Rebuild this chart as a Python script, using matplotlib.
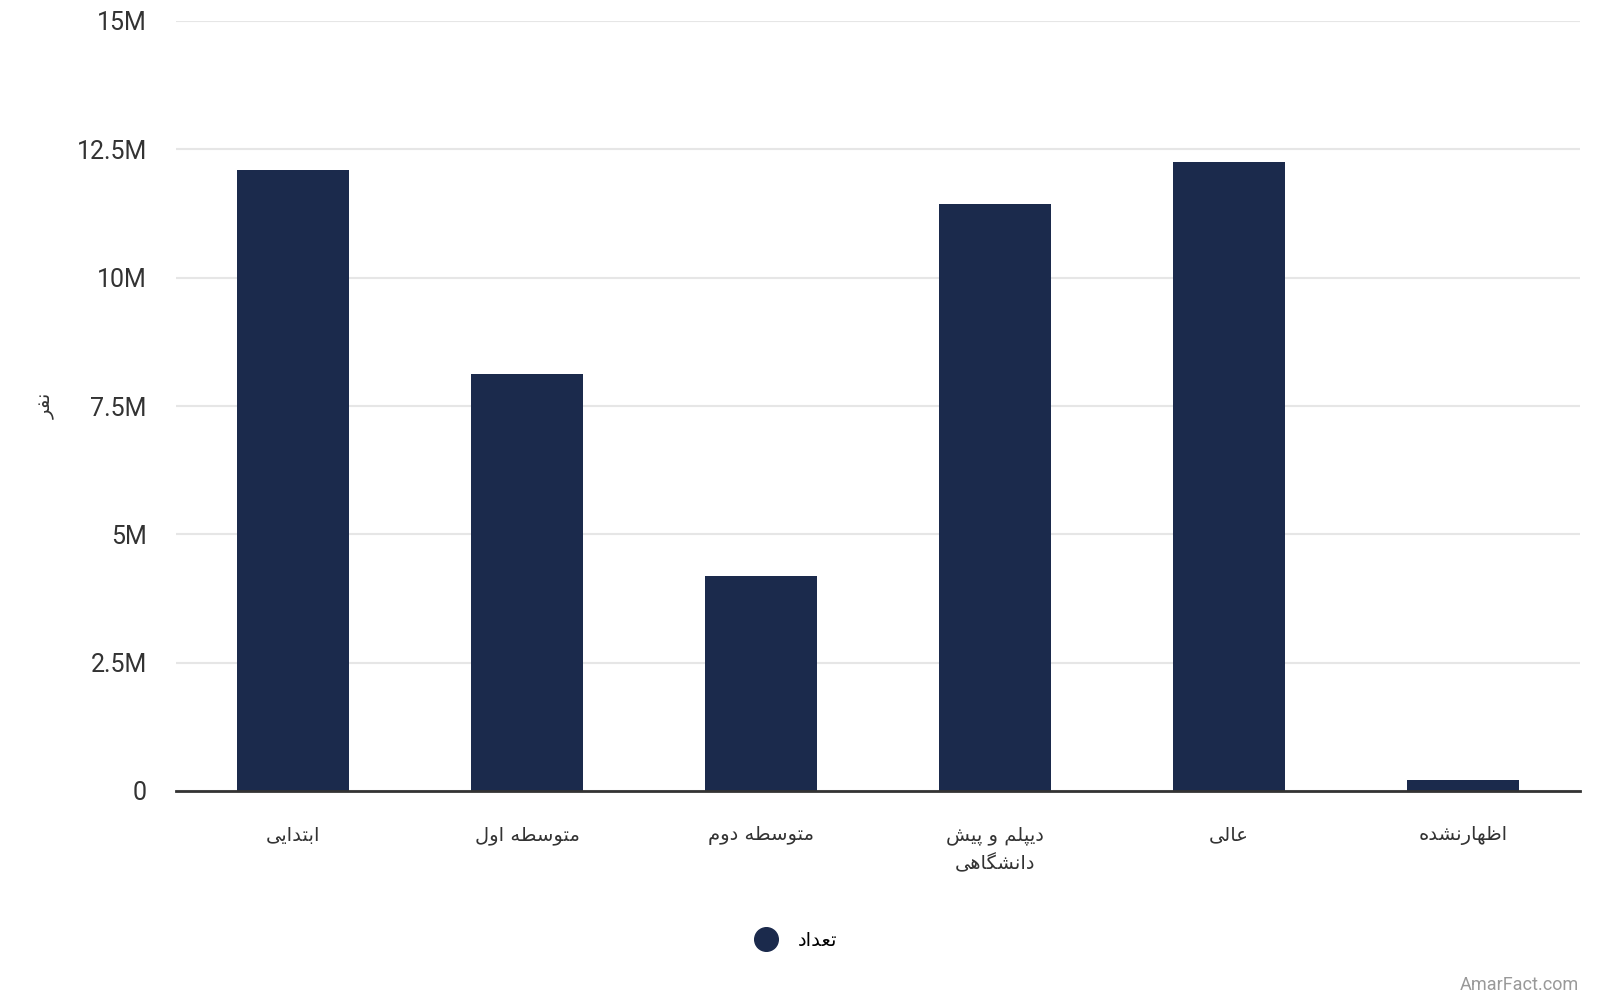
import matplotlib
matplotlib.use('Agg')
import matplotlib.pyplot as plt
from matplotlib.lines import Line2D

# Data (values in people)
categories = ['ابتدایی', 'متوسطه اول', 'متوسطه دوم', 'دیپلم و پیش\nدانشگاهی', 'عالی', 'اظهارنشده']
counts = [12.10e6, 8.13e6, 4.19e6, 11.44e6, 12.26e6, 0.21e6]
series_name = 'تعداد'
y_label = 'نفر'
y_ticks = [0, 2.5e6, 5e6, 7.5e6, 10e6, 12.5e6, 15e6]
y_tick_labels = ['0', '2.5M', '5M', '7.5M', '10M', '12.5M', '15M']

BAR_COLOR = '#1b2a4c'

# matplotlib has no Arabic shaping, so map letters to presentation forms
# (isolated, final, initial, medial) and reverse for right-to-left display
FORMS = {
    '\u0627': ('\uFE8D', '\uFE8E', None, None),
    '\u0628': ('\uFE8F', '\uFE90', '\uFE91', '\uFE92'),
    '\u062A': ('\uFE95', '\uFE96', '\uFE97', '\uFE98'),
    '\u062F': ('\uFEA9', '\uFEAA', None, None),
    '\u0631': ('\uFEAD', '\uFEAE', None, None),
    '\u0633': ('\uFEB1', '\uFEB2', '\uFEB3', '\uFEB4'),
    '\u0634': ('\uFEB5', '\uFEB6', '\uFEB7', '\uFEB8'),
    '\u0637': ('\uFEC1', '\uFEC2', '\uFEC3', '\uFEC4'),
    '\u0638': ('\uFEC5', '\uFEC6', '\uFEC7', '\uFEC8'),
    '\u0639': ('\uFEC9', '\uFECA', '\uFECB', '\uFECC'),
    '\u0641': ('\uFED1', '\uFED2', '\uFED3', '\uFED4'),
    '\u0644': ('\uFEDD', '\uFEDE', '\uFEDF', '\uFEE0'),
    '\u0645': ('\uFEE1', '\uFEE2', '\uFEE3', '\uFEE4'),
    '\u0646': ('\uFEE5', '\uFEE6', '\uFEE7', '\uFEE8'),
    '\u0647': ('\uFEE9', '\uFEEA', '\uFEEB', '\uFEEC'),
    '\u0648': ('\uFEED', '\uFEEE', None, None),
    '\u06CC': ('\uFBFC', '\uFBFD', '\uFBFE', '\uFBFF'),
    '\u067E': ('\uFB56', '\uFB57', '\uFB58', '\uFB59'),
    '\u06AF': ('\uFB92', '\uFB93', '\uFB94', '\uFB95'),
}


def dual(ch):
    return ch in FORMS and FORMS[ch][2] is not None


def shape_line(s):
    out = []
    for i, ch in enumerate(s):
        if ch not in FORMS:
            out.append(ch)
            continue
        prev = s[i - 1] if i > 0 else ''
        nxt = s[i + 1] if i + 1 < len(s) else ''
        join_prev = dual(prev)
        join_next = dual(ch) and nxt in FORMS
        iso, fin, ini, med = FORMS[ch]
        if join_prev and join_next:
            out.append(med)
        elif join_prev:
            out.append(fin)
        elif join_next:
            out.append(ini)
        else:
            out.append(iso)
    return ''.join(reversed(out))


def fa(s):
    return '\n'.join(shape_line(line) for line in s.split('\n'))


plt.rcParams['font.family'] = ['Roboto', 'DejaVu Sans']

fig = plt.figure(figsize=(16, 10), dpi=100)
ax = fig.add_axes([0.11, 0.209, 0.8775, 0.77])

x = range(len(categories))
ax.bar(x, counts, width=0.475, color=BAR_COLOR, zorder=3)

ax.set_xlim(-0.5, len(categories) - 0.5)
ax.set_ylim(0, 15e6)
ax.set_yticks(y_ticks)
ax.set_yticklabels(y_tick_labels, fontsize=18, color='#333333')
ax.tick_params(axis='y', length=0, pad=21)

ax.set_xticks(list(x))
ax.set_xticklabels([fa(c) for c in categories], fontsize=14, color='#333333',
                   family=['DejaVu Sans'], linespacing=1.6)
ax.tick_params(axis='x', length=0, pad=25)

ax.grid(axis='y', color='#e6e6e6', linewidth=1.5, zorder=0)
for side in ['top', 'right', 'left']:
    ax.spines[side].set_visible(False)
ax.spines['bottom'].set_color('#333333')
ax.spines['bottom'].set_linewidth(2)
ax.spines['bottom'].set_zorder(4)

fig.text(0.029, 0.594, fa(y_label), rotation=90, ha='center', va='center',
         fontsize=14, color='#333333', family=['DejaVu Sans'])

handle = Line2D([], [], marker='o', linestyle='none', markersize=17,
                markerfacecolor=BAR_COLOR, markeredgecolor=BAR_COLOR)
fig.legend([handle], [fa(series_name)], loc='center', bbox_to_anchor=(0.495, 0.06),
           frameon=False, handletextpad=0.6, prop={'family': ['DejaVu Sans'], 'size': 14})

fig.text(0.987, 0.015, 'AmarFact.com', ha='right', va='center', fontsize=13, color='#999999')

fig.savefig('out.png', dpi=100, facecolor='white')
